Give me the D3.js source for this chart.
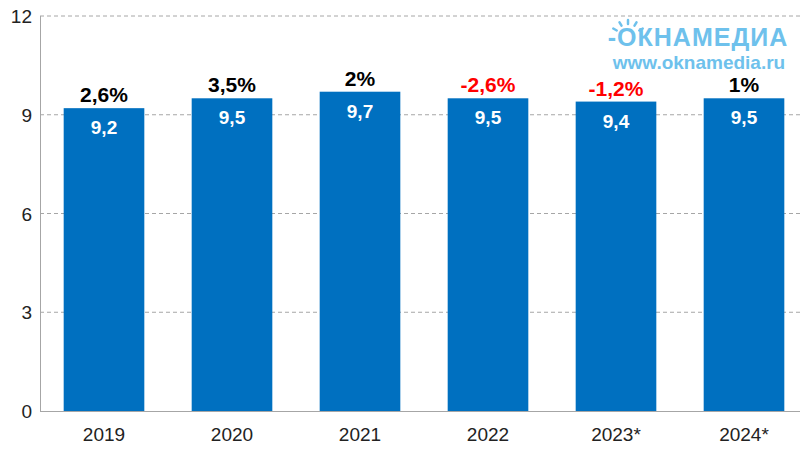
<!DOCTYPE html>
<html><head><meta charset="utf-8">
<script src="https://cdn.jsdelivr.net/npm/d3@7"></script>
<style>body{margin:0;background:#fff}svg{display:block;font-family:"Liberation Sans",Arial,sans-serif}</style>
</head><body><svg id="c" width="800" height="450"></svg>
<script>
const categories = ["2019","2020","2021","2022","2023*","2024*"];
const values = [9.2, 9.5, 9.7, 9.5, 9.4, 9.5];
const changes = ["2,6%","3,5%","2%","-2,6%","-1,2%","1%"];
const valueLabels = ["9,2","9,5","9,7","9,5","9,4","9,5"];
const yTicks = [0,3,6,9,12];

const svg = d3.select("#c");
const x = d3.scaleBand().domain(categories).range([40, 808]).paddingInner(0.37).paddingOuter(0.185);
const y = d3.scaleLinear().domain([0,12]).range([411, 16]);

// gridlines
svg.append("g").selectAll("line").data(yTicks.filter(d=>d>0)).join("line")
  .attr("x1",40).attr("x2",800).attr("y1",d=>y(d)).attr("y2",d=>y(d))
  .attr("stroke","#a6a6a6").attr("stroke-dasharray","4,3").attr("stroke-width",1);

// y labels
svg.append("g").selectAll("text").data(yTicks).join("text")
  .attr("x",32).attr("y",d=>y(d)+7).attr("text-anchor","end")
  .attr("font-size",19).attr("fill","#222").text(d=>d);

// bars
svg.append("g").selectAll("rect").data(values).join("rect")
  .attr("x",(d,i)=>x(categories[i])).attr("width",x.bandwidth())
  .attr("y",d=>y(d)).attr("height",d=>y(0)-y(d)).attr("fill","#0070C0");

// axes lines
svg.append("line").attr("x1",40.5).attr("x2",40.5).attr("y1",16).attr("y2",411).attr("stroke","#a6a6a6");
svg.append("line").attr("x1",40).attr("x2",800).attr("y1",411.5).attr("y2",411.5).attr("stroke","#a6a6a6");

// value labels
svg.append("g").selectAll("text").data(values).join("text")
  .attr("x",(d,i)=>x(categories[i])+x.bandwidth()/2).attr("y",d=>y(d)+26)
  .attr("text-anchor","middle").attr("font-size",19).attr("font-weight","bold").attr("fill","#fff")
  .text((d,i)=>valueLabels[i]);

// change labels
svg.append("g").selectAll("text").data(values).join("text")
  .attr("x",(d,i)=>x(categories[i])+x.bandwidth()/2).attr("y",d=>y(d)-6)
  .attr("text-anchor","middle").attr("font-size",21).attr("font-weight","bold")
  .attr("fill",(d,i)=>changes[i].startsWith("-")?"#FF0000":"#000")
  .text((d,i)=>changes[i]);

// x labels
svg.append("g").selectAll("text").data(categories).join("text")
  .attr("x",d=>x(d)+x.bandwidth()/2).attr("y",441)
  .attr("text-anchor","middle").attr("font-size",19).attr("fill","#222").text(d=>d);

// logo
const logo = svg.append("g").attr("fill","#6EC1EC");
logo.append("text").attr("x",698).attr("y",46).attr("text-anchor","middle")
  .attr("font-size",25).attr("font-weight","bold").attr("letter-spacing",1).text("-ОКНАМЕДИА");
logo.append("text").attr("x",699).attr("y",69).attr("text-anchor","middle")
  .attr("font-size",19).attr("font-weight","bold").text("www.oknamedia.ru");
const rays = [-60,-30,0,30,60];
logo.selectAll("line").data(rays).join("line")
  .attr("x1",d=>628+Math.sin(d*Math.PI/180)*13).attr("y1",d=>37-Math.cos(d*Math.PI/180)*13)
  .attr("x2",d=>628+Math.sin(d*Math.PI/180)*17).attr("y2",d=>37-Math.cos(d*Math.PI/180)*17)
  .attr("stroke","#6EC1EC").attr("stroke-width",2.5).attr("stroke-linecap","round");
</script></body></html>
